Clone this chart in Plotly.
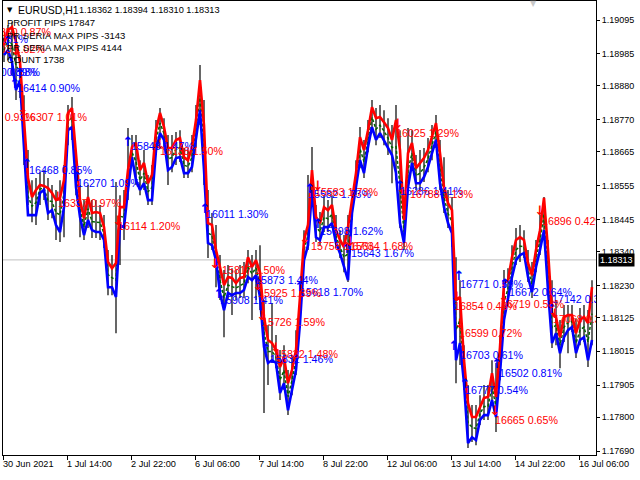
import plotly.graph_objects as go
import numpy as np

red = [1.19013,1.19062,1.19072,1.19023,1.18958,1.18752,1.18580,1.18518,1.18541,1.18557,1.18554,1.18547,1.18531,1.18508,1.18515,1.18573,1.18792,1.18808,1.18648,1.18508,1.18449,1.18518,1.18466,1.18469,1.18466,1.18420,1.18306,1.18286,1.18303,1.18485,1.18485,1.18606,1.18681,1.18694,1.18606,1.18629,1.18563,1.18590,1.18736,1.18792,1.18746,1.18678,1.18678,1.18704,1.18710,1.18648,1.18638,1.18681,1.18769,1.18899,1.18752,1.18433,1.18427,1.18345,1.18290,1.18231,1.18257,1.18254,1.18237,1.18254,1.18257,1.18322,1.18290,1.18312,1.18273,1.18127,1.18052,1.18042,1.18019,1.17964,1.17996,1.17911,1.17954,1.18019,1.18192,1.18378,1.18427,1.18606,1.18453,1.18433,1.18485,1.18475,1.18492,1.18410,1.18378,1.18355,1.18420,1.18508,1.18596,1.18713,1.18671,1.18736,1.18811,1.18775,1.18779,1.18762,1.18743,1.18704,1.18769,1.18671,1.18443,1.18661,1.18694,1.18612,1.18629,1.18645,1.18671,1.18713,1.18759,1.18661,1.18550,1.18498,1.18475,1.18182,1.18192,1.17986,1.17846,1.17801,1.17801,1.17833,1.17863,1.17866,1.17944,1.17866,1.18029,1.18237,1.18247,1.18322,1.18378,1.18387,1.18378,1.18303,1.18263,1.18345,1.18410,1.18515,1.18345,1.18140,1.18127,1.18061,1.18127,1.18133,1.18133,1.18074,1.18117,1.18127,1.18107,1.18224]

blue = [1.18981,1.18997,1.18958,1.18867,1.18899,1.18671,1.18459,1.18459,1.18459,1.18531,1.18541,1.18466,1.18475,1.18426,1.18404,1.18485,1.18736,1.18746,1.18550,1.18453,1.18394,1.18443,1.18410,1.18404,1.18404,1.18378,1.18224,1.18224,1.18192,1.18426,1.18420,1.18541,1.18648,1.18573,1.18541,1.18563,1.18508,1.18508,1.18671,1.18726,1.18704,1.18606,1.18616,1.18645,1.18648,1.18596,1.18596,1.18616,1.18704,1.18801,1.18606,1.18368,1.18361,1.18312,1.18205,1.18149,1.18205,1.18198,1.18205,1.18205,1.18215,1.18257,1.18247,1.18263,1.18192,1.18029,1.17977,1.17986,1.17977,1.17879,1.17911,1.17823,1.17889,1.17954,1.18107,1.18312,1.18361,1.18541,1.18387,1.18378,1.18420,1.18420,1.18433,1.18368,1.18335,1.18290,1.18247,1.18466,1.18550,1.18638,1.18596,1.18681,1.18746,1.18704,1.18726,1.18704,1.18678,1.18655,1.18596,1.18433,1.18368,1.18550,1.18629,1.18563,1.18563,1.18583,1.18616,1.18661,1.18704,1.18563,1.18485,1.18433,1.18400,1.17986,1.18042,1.17911,1.17716,1.17735,1.17726,1.17791,1.17807,1.17807,1.17856,1.17801,1.17944,1.18117,1.18192,1.18257,1.18312,1.18329,1.18335,1.18257,1.18208,1.18290,1.18345,1.18410,1.18215,1.18042,1.18074,1.18009,1.18061,1.18084,1.18094,1.18009,1.18052,1.18061,1.17986,1.18052]

mid = [1.18997,1.19030,1.19015,1.18945,1.18928,1.18711,1.18520,1.18488,1.18500,1.18544,1.18547,1.18506,1.18503,1.18467,1.18460,1.18529,1.18764,1.18777,1.18599,1.18480,1.18421,1.18480,1.18438,1.18436,1.18435,1.18399,1.18265,1.18255,1.18247,1.18455,1.18452,1.18573,1.18664,1.18633,1.18573,1.18596,1.18535,1.18549,1.18703,1.18759,1.18725,1.18642,1.18647,1.18674,1.18679,1.18622,1.18617,1.18648,1.18736,1.18850,1.18679,1.18400,1.18394,1.18328,1.18247,1.18190,1.18231,1.18226,1.18221,1.18229,1.18236,1.18289,1.18268,1.18287,1.18232,1.18078,1.18014,1.18014,1.17998,1.17921,1.17953,1.17867,1.17921,1.17986,1.18149,1.18345,1.18394,1.18573,1.18420,1.18405,1.18452,1.18447,1.18462,1.18389,1.18356,1.18322,1.18333,1.18487,1.18573,1.18675,1.18633,1.18708,1.18778,1.18739,1.18752,1.18733,1.18710,1.18679,1.18682,1.18552,1.18405,1.18605,1.18661,1.18587,1.18596,1.18614,1.18643,1.18687,1.18731,1.18612,1.18517,1.18465,1.18437,1.18084,1.18117,1.17948,1.17781,1.17768,1.17763,1.17812,1.17835,1.17836,1.17900,1.17833,1.17986,1.18177,1.18219,1.18289,1.18345,1.18358,1.18356,1.18280,1.18235,1.18317,1.18377,1.18462,1.18280,1.18091,1.18100,1.18035,1.18094,1.18108,1.18113,1.18041,1.18084,1.18094,1.18046,1.18138]

high = [1.19036,1.19078,1.19088,1.19046,1.18981,1.18850,1.18671,1.18573,1.18580,1.18599,1.18606,1.18580,1.18557,1.18541,1.18573,1.18622,1.18818,1.18844,1.18671,1.18557,1.18508,1.18557,1.18508,1.18508,1.18492,1.18459,1.18345,1.18329,1.18567,1.18524,1.18541,1.18743,1.18720,1.18720,1.18638,1.18671,1.18590,1.18622,1.18769,1.18808,1.18775,1.18720,1.18720,1.18730,1.18736,1.18678,1.18671,1.18720,1.18818,1.18948,1.18834,1.18541,1.18466,1.18427,1.18329,1.18280,1.18296,1.18286,1.18280,1.18296,1.18306,1.18345,1.18329,1.18345,1.18361,1.18182,1.18101,1.18172,1.18068,1.18019,1.18035,1.17954,1.18003,1.18084,1.18231,1.18410,1.18590,1.18681,1.18492,1.18469,1.18524,1.18508,1.18524,1.18459,1.18410,1.18394,1.18459,1.18541,1.18638,1.18746,1.18704,1.18769,1.18834,1.18808,1.18818,1.18801,1.18775,1.18753,1.18818,1.18736,1.18492,1.18743,1.18736,1.18655,1.18671,1.18678,1.18710,1.18753,1.18785,1.18704,1.18648,1.18541,1.18518,1.18322,1.18247,1.18035,1.17905,1.17840,1.17840,1.17872,1.17905,1.17905,1.17986,1.17977,1.18068,1.18280,1.18286,1.18361,1.18417,1.18427,1.18410,1.18345,1.18306,1.18378,1.18459,1.18518,1.18378,1.18247,1.18182,1.18117,1.18166,1.18166,1.18166,1.18123,1.18156,1.18166,1.18150,1.18247]

low = [1.18958,1.18964,1.18916,1.18834,1.18841,1.18622,1.18492,1.18436,1.18427,1.18492,1.18508,1.18443,1.18449,1.18378,1.18371,1.18387,1.18687,1.18704,1.18524,1.18387,1.18378,1.18417,1.18384,1.18384,1.18378,1.18352,1.18198,1.18198,1.18074,1.18296,1.18378,1.18508,1.18622,1.18557,1.18524,1.18541,1.18492,1.18492,1.18655,1.18704,1.18671,1.18557,1.18599,1.18622,1.18632,1.18580,1.18580,1.18599,1.18678,1.18753,1.18557,1.18319,1.18345,1.18224,1.18182,1.18061,1.18182,1.18133,1.18182,1.18189,1.18189,1.18237,1.18117,1.18182,1.18150,1.17814,1.17905,1.17977,1.17960,1.17856,1.17889,1.17807,1.17872,1.17938,1.18091,1.18296,1.18345,1.18524,1.18371,1.18361,1.18404,1.18404,1.18417,1.18352,1.18319,1.18273,1.18241,1.18443,1.18524,1.18612,1.18580,1.18664,1.18730,1.18687,1.18710,1.18687,1.18655,1.18563,1.18573,1.18417,1.18345,1.18534,1.18606,1.18541,1.18541,1.18567,1.18599,1.18638,1.18678,1.18541,1.18466,1.18417,1.18355,1.17911,1.17970,1.17889,1.17700,1.17719,1.17709,1.17775,1.17791,1.17791,1.17840,1.17752,1.17921,1.18101,1.18176,1.18241,1.18296,1.18306,1.18319,1.18241,1.18189,1.18273,1.18329,1.18394,1.18198,1.18026,1.18035,1.17960,1.18045,1.18009,1.18078,1.17993,1.18035,1.18045,1.17964,1.18035]

blue_text = ["16414 0.90%","16470 0.88%","16470 0.89%","16381 0.81%","16468 0.85%","16270 1.09%","15843 1.47%","16011 1.30%","15873 1.44%","15908 1.41%","15618 1.70%","15832 1.46%","15643 1.67%","15582 1.73%","15698 1.62%","16286 1.41%","16771 0.59%","16672 0.64%","16703 0.61%","16502 0.81%","16777 0.54%","17142 0.33%"]
blue_text_bar = [7,-13,-14.5,-19,13,37,64,101.5,126,108.5,148.5,133.5,174,152.5,158.5,198.5,228.5,253,228.5,248,231,274.5]
blue_text_price = [1.18870,1.18922,1.18922,1.19030,1.18603,1.18560,1.18681,1.18459,1.18244,1.18179,1.18205,1.17986,1.18332,1.18524,1.18404,1.18534,1.18231,1.18205,1.18000,1.17941,1.17885,1.18182]
blue_arrow_bar = [6,8.5,2.5,12,37,62.5,101,127.5,108,148.5,131.5,172,153.5,157.5,198.5,228,251,225.5,247,231,274.5]
blue_arrow_price = [1.18883,1.18915,1.19023,1.18622,1.18580,1.18694,1.18475,1.18231,1.18198,1.18221,1.18019,1.18345,1.18541,1.18426,1.18550,1.18257,1.18231,1.18029,1.17970,1.17905,1.18149]

red_text = ["16307 1.01%","16254 0.93%","16350 0.87%","16203 1.02%","16114 1.20%","16337 0.97%","16138 1.50%","15817 1.50%","15925 1.39%","15726 1.59%","15832 1.48%","15758 1.67%","15583 1.73%","15634 1.68%","16025 1.29%","16788 1.13%","16854 0.48%","16599 0.72%","16665 0.65%","16719 0.58%","16896 0.42%","17068 0.37%"]
red_text_bar = [10.5,-15.5,-7.5,-10.5,57.5,27.5,78.5,109.5,127.5,129.5,136,154,156,173.5,196.5,203.5,225.5,228,246,249,269.5,275]
red_text_price = [1.18775,1.18775,1.19052,1.18997,1.18420,1.18495,1.18664,1.18277,1.18202,1.18107,1.18003,1.18355,1.18531,1.18355,1.18723,1.18524,1.18159,1.18071,1.17788,1.18166,1.18436,1.18117]
red_arrow_bar = [10,1,6.5,57.5,27.5,78.5,106,127.5,129.5,136.5,151,157.5,173.5,197.5,199.5,227,228.5,246,250.5,268.5,276]
red_arrow_price = [1.18801,1.19036,1.18990,1.18436,1.18515,1.18684,1.18296,1.18224,1.18127,1.18022,1.18378,1.18550,1.18368,1.18753,1.18541,1.18189,1.18101,1.17817,1.18189,1.18469,1.18133]

price_ticks = [1.19095,1.18985,1.18880,1.18770,1.18665,1.18555,1.18445,1.18340,1.18230,1.18125,1.18015,1.17905,1.17800,1.17690]
time_ticks = [0,32,64,96,128,160,192,224,256,288]
time_labels = ["30 Jun 2021","1 Jul 14:00","2 Jul 22:00","6 Jul 06:00","7 Jul 14:00","8 Jul 22:00","12 Jul 06:00","13 Jul 14:00","14 Jul 22:00","16 Jul 06:00"]
current_price = 1.18313
symbol = "EURUSD,H1"
ohlc = "1.18362 1.18394 1.18310 1.18313"
info = ["PROFIT PIPS 17847","PR SERIA MAX PIPS -3143","PR SERIA MAX PIPS 4144","COUNT 1738"]

FONT = "Liberation Sans"
L, R, T, B = 3, 44, 1, 25
W, H = 640, 480
bars = np.arange(len(red)) * 2 + 0.5
def px(x): return (x - L) / (W - L - R)
def py(y): return 1 - (y - T) / (H - T - B)

wx, wy = [], []
for b, h, l in zip(bars, high, low):
    wx += [b, b, None]
    wy += [l, h, None]

fig = go.Figure()
fig.add_trace(go.Scatter(x=wx, y=wy, mode="lines", line=dict(color="black", width=1.2)))
fig.add_trace(go.Scatter(x=bars, y=mid, mode="lines", line=dict(color="#006400", width=1.5, dash="3px,2px")))
fig.add_trace(go.Scatter(x=bars, y=blue, mode="lines", line=dict(color="#0000ff", width=2.6)))
fig.add_trace(go.Scatter(x=bars, y=red, mode="lines", line=dict(color="#ff0000", width=2.6)))
fig.add_trace(go.Scatter(x=blue_arrow_bar, y=blue_arrow_price, text=["↑"] * len(blue_arrow_bar), mode="text",
    textposition="middle center", textfont=dict(family="DejaVu Sans", size=13, weight="bold", color="#0000ff")))
fig.add_trace(go.Scatter(x=red_arrow_bar, y=red_arrow_price, text=["↓"] * len(red_arrow_bar), mode="text",
    textposition="middle center", textfont=dict(family="DejaVu Sans", size=13, weight="bold", color="#ff0000")))
fig.add_trace(go.Scatter(x=blue_text_bar, y=blue_text_price, text=blue_text, mode="text",
    textposition="middle right", textfont=dict(family=FONT, size=10.7, color="#0000ff")))
fig.add_trace(go.Scatter(x=red_text_bar, y=red_text_price, text=red_text, mode="text",
    textposition="middle right", textfont=dict(family=FONT, size=10.7, color="#ff0000")))

fig.add_hline(y=current_price, line=dict(color="#c0c0c0", width=1), layer="below")

ann = []
ann.append(dict(x=px(17), y=py(10), text=symbol, xanchor="left", font=dict(size=10.5, color="black", family=FONT)))
ann.append(dict(x=px(78), y=py(10), text=ohlc, xanchor="left", font=dict(size=9.2, color="black", family=FONT)))
ann.append(dict(x=px(10), y=py(10), text="▼", xanchor="center", font=dict(size=7, color="black", family="DejaVu Sans")))
ann.append(dict(x=px(533), y=py(3), text="▼", xanchor="center", font=dict(size=8, color="#c8c8c8", family="DejaVu Sans")))
for t, yy in zip(info, [22, 35, 47, 59]):
    ann.append(dict(x=px(6), y=py(yy), text=t, xanchor="left", font=dict(size=9.5, color="black", family=FONT)))
for b, t in zip(time_ticks, time_labels):
    ann.append(dict(x=px(2 + 2 * b), y=py(464), text=t, xanchor="left", font=dict(size=9.2, color="black", family=FONT)))
for a in ann:
    a.update(xref="paper", yref="paper", showarrow=False, yanchor="middle", borderpad=0, align="left")
ann.append(dict(x=1.0, y=current_price, xref="paper", yref="y", text=f"{current_price:.5f}", showarrow=False,
                xanchor="left", yanchor="middle", bgcolor="black", xshift=2, borderpad=1,
                font=dict(size=9, color="white", family=FONT)))

fig.update_layout(
    width=W, height=H, showlegend=False, plot_bgcolor="white", paper_bgcolor="white",
    margin=dict(l=L, r=R, t=T, b=B, pad=0), annotations=ann,
    xaxis=dict(range=[0, 296.5], tickmode="array", tickvals=time_ticks, ticktext=[""] * len(time_ticks),
               ticks="outside", ticklen=4, tickcolor="black", tickwidth=1, showgrid=False, zeroline=False,
               showline=True, linecolor="black", linewidth=1, mirror=True),
    yaxis=dict(range=[1.17677, 1.19157], side="right", tickmode="array", tickvals=price_ticks,
               ticktext=[f"{v:.5f}" for v in price_ticks], ticks="outside", ticklen=3, tickcolor="black", tickwidth=1,
               tickfont=dict(size=9, color="black", family=FONT), showgrid=False, zeroline=False,
               showline=True, linecolor="black", linewidth=1, mirror=True),
)
fig.write_html("out.html", config=dict(displayModeBar=False),
               post_script="document.body.style.margin='0';document.documentElement.style.overflow='hidden';")
